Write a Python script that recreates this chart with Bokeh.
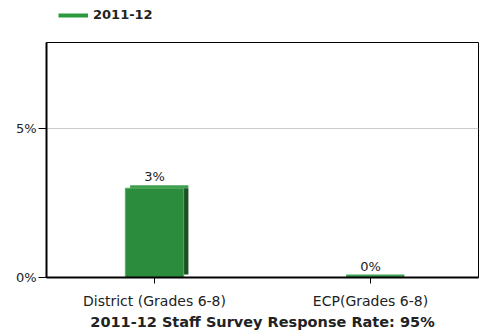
from bokeh.plotting import figure
from bokeh.layouts import column
from bokeh.models import ColumnDataSource, FixedTicker, CustomJSTickFormatter, LabelSet, Legend, LegendItem
from bokeh.transform import dodge
from bokeh.embed import file_html
from bokeh.resources import INLINE
from bokeh.core.properties import value

categories = ["District (Grades 6-8)", "ECP(Grades 6-8)"]
rates = [3, 0]
rate_labels = ["3%", "0%"]
series_name = "2011-12"
y_ticks = [0, 5]
title_text = "2011-12 Staff Survey Response Rate: 95%"

depth = 0.1  # 3D depth in value units
src = ColumnDataSource(dict(cat=categories, v=rates, lab=rate_labels,
                            vtop=[r + depth for r in rates],
                            vside=[min(r, depth) for r in rates]))

# ---- legend strip ----
lf = figure(width=480, height=30, output_backend="svg", toolbar_location=None,
            x_range=(0, 1), y_range=(0, 1),
            min_border_left=0, min_border_right=0, min_border_top=0, min_border_bottom=0)
lf.axis.visible = False
lf.grid.visible = False
lf.outline_line_color = None
# legend proxy renderer, placed outside the visible range
leg_line = lf.line(x=[5, 6], y=[5, 5], line_color="#2a9a3c", line_width=4)
legend = Legend(items=[LegendItem(label=series_name, renderers=[leg_line])],
                location=(12, 8), orientation="horizontal",
                label_text_font="DejaVu Sans", label_text_font_style="bold",
                label_text_font_size="13px", label_text_color="#222222",
                glyph_width=30, glyph_height=12, border_line_color=None,
                background_fill_alpha=0,
                padding=0, margin=0, label_standoff=5, spacing=0)
lf.add_layout(legend)

# ---- main chart ----
p = figure(x_range=categories, y_range=(0, 7.9), width=480, height=302,
           output_backend="svg", toolbar_location=None,
           min_border_left=46, min_border_right=2, min_border_bottom=0,
           min_border_top=12)

# 3D top face and side of bar
p.vbar(x=dodge("cat", 0.022, range=p.x_range), top="vtop", bottom="v", width=0.27,
       fill_color="#3f9f4e", line_color=None, source=src)
p.vbar(x=dodge("cat", 0.022, range=p.x_range), top="v", bottom="vside", width=0.27,
       fill_color="#1a4f24", line_color=None, source=src)
p.vbar(x="cat", top="v", bottom=0, width=0.27, fill_color="#2a8c3c",
       line_color="#52b060", line_width=1, source=src)

labels = LabelSet(x="cat", y="v", text="lab", source=src, text_align="center",
                  y_offset=4, text_font=value("DejaVu Sans"), text_font_size="13px",
                  text_color="#222222")
p.add_layout(labels)

p.yaxis.ticker = FixedTicker(ticks=y_ticks)
p.yaxis.formatter = CustomJSTickFormatter(code="return tick + '%';")
p.yaxis.major_label_text_font = "DejaVu Sans"
p.yaxis.major_label_text_font_size = "13px"
p.yaxis.major_label_text_color = "#222222"
p.yaxis.major_tick_out = 8
p.yaxis.major_tick_in = 0
p.yaxis.minor_tick_line_color = None
p.yaxis.axis_line_color = "black"
p.yaxis.axis_line_width = 2
p.yaxis.major_label_standoff = 2

p.xaxis.major_label_text_font = "DejaVu Sans"
p.xaxis.major_label_text_font_size = "14px"
p.xaxis.major_label_text_color = "#222222"
p.xaxis.major_tick_out = 6
p.xaxis.major_tick_in = 0
p.xaxis.axis_line_color = "black"
p.xaxis.axis_line_width = 2
p.xaxis.major_label_standoff = 9
p.xaxis.axis_label = title_text
p.xaxis.axis_label_text_font = "DejaVu Sans"
p.xaxis.axis_label_text_font_style = "bold"
p.xaxis.axis_label_text_font_size = "14.5px"
p.xaxis.axis_label_text_color = "#222222"
p.xaxis.axis_label_standoff = 2

p.xgrid.grid_line_color = None
p.ygrid.grid_line_color = "#cccccc"
p.ygrid.ticker = FixedTicker(ticks=[5])
p.outline_line_color = "black"
p.outline_line_width = 1

layout = column(lf, p, spacing=0)
open("out.html", "w").write(file_html(layout, INLINE))
